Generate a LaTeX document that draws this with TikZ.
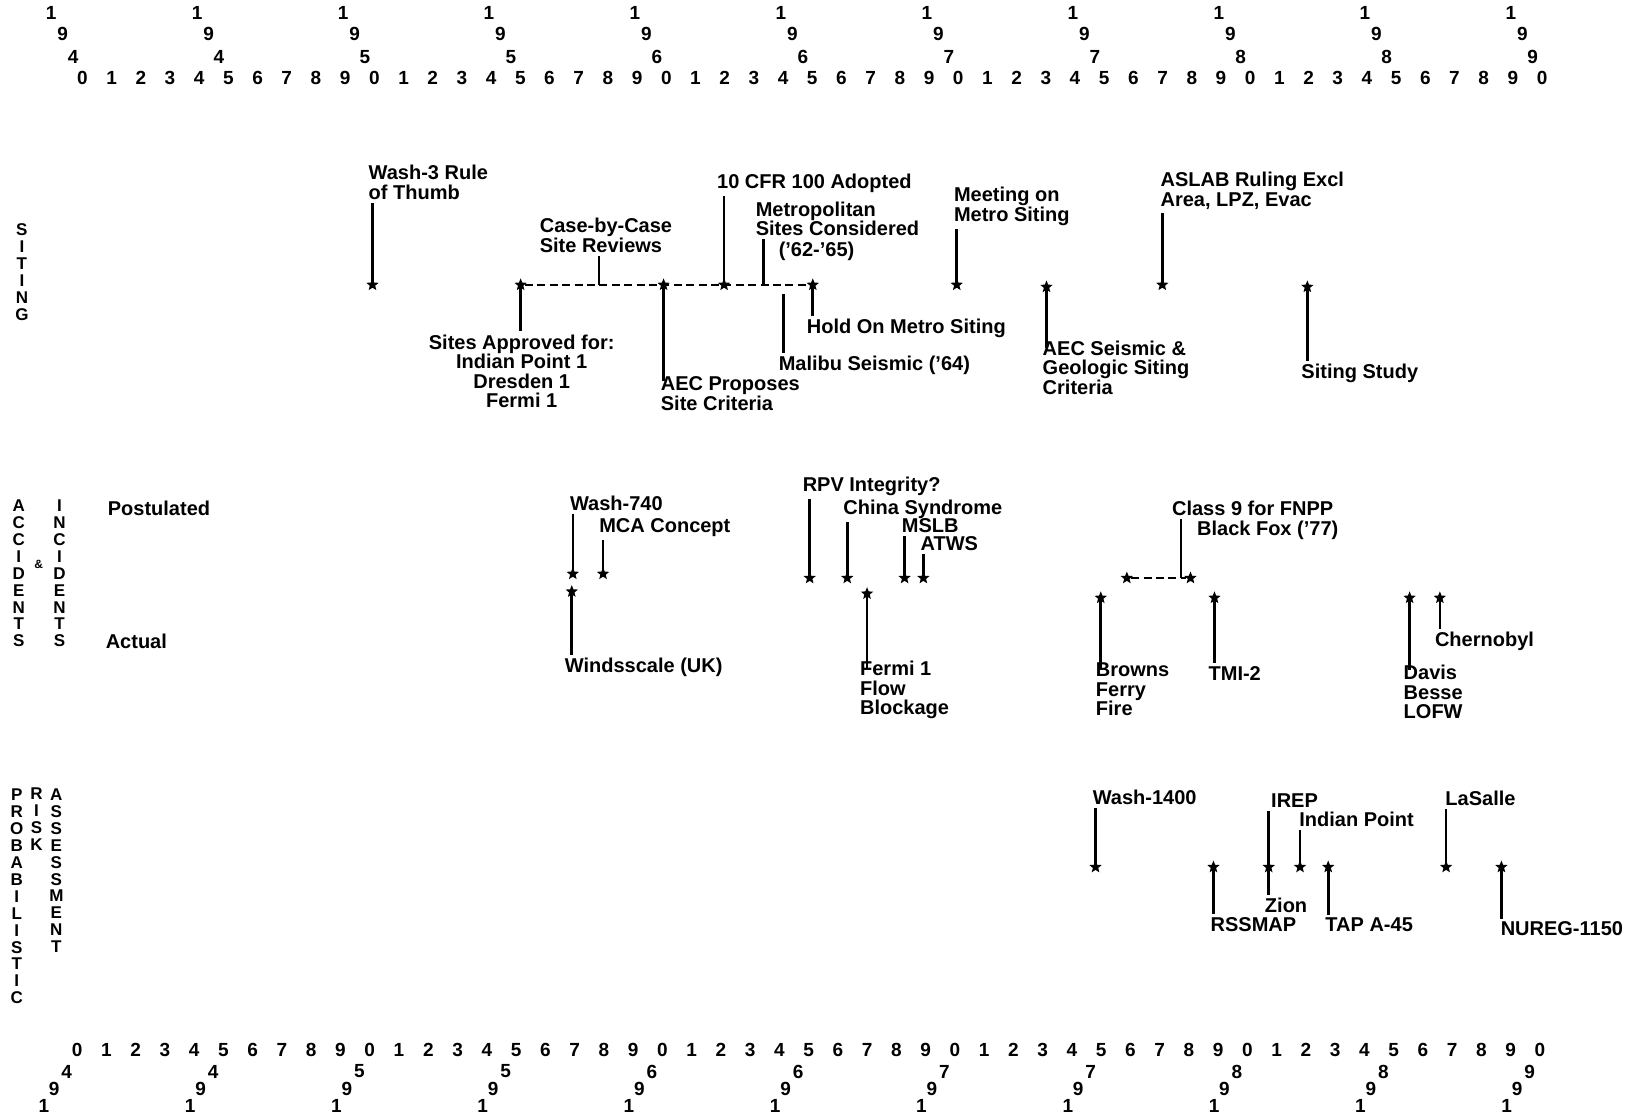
\documentclass[tikz,border=0pt]{standalone}
\usepackage{fontspec}
\setmainfont{Liberation Sans}
\usepackage{tikz}
\usetikzlibrary{shapes.geometric,calc}

\begin{document}
\begin{tikzpicture}[x=0.5217pt, y=-0.5217pt,
    font=\fontsize{10}{9.8}\selectfont\bfseries,
    evt/.style={star, star points=5, star point ratio=2.3, fill=black, draw=none, minimum size=6.5pt, inner sep=0pt},
    lbl/.style={anchor=base west, align=left, inner xsep=0pt, inner ysep=1.5pt},
    clbl/.style={anchor=base, align=center, inner sep=1.5pt},
    stk/.style={anchor=base, align=center, inner sep=0pt, font=\fontsize{8.5}{8.45}\selectfont\bfseries},
    dig/.style={inner sep=0pt, font=\fontsize{9.5}{9.5}\selectfont\bfseries},
    tick/.style={line width=1.3pt},
    span/.style={line width=0.9pt, dash pattern=on 4pt off 2.2pt}]
    \useasboundingbox (0,0) rectangle (1568,1070);

    % year scales, top and bottom
    \foreach \i in {0,...,50} {
        \pgfmathtruncatemacro{\d}{mod(\i,10)}
        \node[dig] (ty\i) at ({79+27.98*\i},75) {\d};
        \node[dig] (by\i) at ({74+28.04*\i},1006) {\d};
    }
    \foreach \k in {0,...,10} {
        \pgfmathtruncatemacro{\dec}{4+int(\k/2)}
        \node[dig] (tc\k) at ({79+139.9*\k-30},12) {1};
        \node[dig] (tn\k) at ({79+139.9*\k-19},33) {9};
        \node[dig] (td\k) at ({79+139.9*\k-9},55) {\dec};
        \node[dig] (bd\k) at ({74+140.2*\k-10},1027) {\dec};
        \node[dig] (bn\k) at ({74+140.2*\k-22},1044) {9};
        \node[dig] (bc\k) at ({74+140.2*\k-32},1060) {1};
    }

    % row titles (base = last letter)
    \node[stk] (siting) at (21,307) {S\\I\\T\\I\\N\\G};
    \node[stk] (accid) at (18,620) {A\\C\\C\\I\\D\\E\\N\\T\\S};
    \node[stk, font=\fontsize{6}{6}\selectfont\bfseries] (amp) at (37,545) {\&};
    \node[stk] (incid) at (57,620) {I\\N\\C\\I\\D\\E\\N\\T\\S};
    \node[stk] (prob) at (16,962) {P\\R\\O\\B\\A\\B\\I\\L\\I\\S\\T\\I\\C};
    \node[stk] (risk) at (35,815) {R\\I\\S\\K};
    \node[stk] (asses) at (54,913) {A\\S\\S\\E\\S\\S\\M\\E\\N\\T};
    \node[lbl] (postul) at (103,494) {Postulated};
    \node[lbl] (actual) at (101,622) {Actual};

    % siting
    \node[evt] (s50) at (357,273) {};
    \node[evt] (s55) at (499,273) {};
    \node[evt] (s60) at (636,273) {};
    \node[evt] (s62) at (694,273) {};
    \node[evt] (s65) at (779,273) {};
    \node[evt] (s70) at (917,273) {};
    \node[evt] (s73) at (1003,275) {};
    \node[evt] (s77) at (1114,273) {};
    \node[evt] (s82) at (1253,275) {};
    \coordinate (cbcpt) at (574,273);
    \coordinate (metpt) at (732,273);
    \coordinate (malpt) at (751,282);

    \node[lbl] (wash3) at (353,191) {Wash-3 Rule\\of Thumb};
    \node[lbl] (cbc) at (517,242) {Case-by-Case\\Site Reviews};
    \node[lbl] (cfr) at (687,181) {10 CFR 100 Adopted};
    \node[lbl] (metro) at (724,226) {Metropolitan\\Sites Considered};
    \node[lbl] (metyr) at (746,246) {('62-'65)};
    \node[clbl] (approved) at (500,391) {Sites Approved for:\\Indian Point 1\\Dresden 1\\Fermi 1};
    \node[lbl] (aecprop) at (633,393) {AEC Proposes\\Site Criteria};
    \node[lbl] (malibu) at (746,355) {Malibu Seismic ('64)};
    \node[lbl] (hold) at (773,320) {Hold On Metro Siting};
    \node[lbl] (meeting) at (914,212) {Meeting on\\Metro Siting};
    \node[lbl] (aecseis) at (999,378) {AEC Seismic \&\\Geologic Siting\\Criteria};
    \node[lbl] (aslab) at (1112,198) {ASLAB Ruling Excl\\Area, LPZ, Evac};
    \node[lbl] (study) at (1247,363) {Siting Study};

    \draw[span] (s55) -- (s65);
    \draw[tick] (s50.center) -- (s50 |- wash3.south);
    \draw[tick] (cbcpt) -- (cbcpt |- cbc.south);
    \draw[tick] (s62.center) -- (s62 |- cfr.south);
    \draw[tick] (metpt) -- (metpt |- metro.south);
    \draw[tick] (s55.center) -- (s55 |- approved.north);
    \draw[tick] (s60.center) -- ($(s60 |- aecprop.north)+(0,8)$);
    \draw[tick] (malpt) -- (malpt |- malibu.north);
    \draw[tick] (s65.center) -- (s65 |- hold.north);
    \draw[tick] (s70.center) -- (s70 |- meeting.south);
    \draw[tick] (s73.center) -- ($(s73 |- aecseis.north)+(0,10)$);
    \draw[tick] (s77.center) -- (s77 |- aslab.south);
    \draw[tick] (s82.center) -- (s82 |- study.north);

    % accidents and incidents
    \node[evt] (a57p) at (549,550) {};
    \node[evt] (a58p) at (578,550) {};
    \node[evt] (a57a) at (548,567) {};
    \node[evt] (a65p) at (776,554) {};
    \node[evt] (a66p) at (812,554) {};
    \node[evt] (a68p) at (867,554) {};
    \node[evt] (a69p) at (885,554) {};
    \node[evt] (a66a) at (831,569) {};
    \node[evt] (a76p) at (1080,554) {};
    \node[evt] (a78p) at (1141,554) {};
    \node[evt] (a75a) at (1055,573) {};
    \node[evt] (a79a) at (1164,573) {};
    \node[evt] (a85a) at (1351,573) {};
    \node[evt] (a86a) at (1380,573) {};
    \coordinate (c9pt) at (1132,554);

    \node[lbl] (w740) at (546,489) {Wash-740};
    \node[lbl] (mca) at (574,510) {MCA Concept};
    \node[lbl] (winds) at (541,645) {Windsscale (UK)};
    \node[lbl] (rpv) at (769,471) {RPV Integrity?};
    \node[lbl] (china) at (808,493) {China Syndrome};
    \node[lbl] (mslb) at (864,510) {MSLB};
    \node[lbl] (atws) at (882,528) {ATWS};
    \node[lbl] (fermi) at (824,685) {Fermi 1\\Flow\\Blockage};
    \node[lbl] (class9) at (1123,494) {Class 9 for FNPP};
    \node[lbl] (bfox) at (1147,513) {Black Fox ('77)};
    \node[lbl] (browns) at (1050,686) {Browns\\Ferry\\Fire};
    \node[lbl] (tmi) at (1158,652) {TMI-2};
    \node[lbl] (davis) at (1345,689) {Davis\\Besse\\LOFW};
    \node[lbl] (chern) at (1375,620) {Chernobyl};

    \draw[span] (a76p) -- (a78p);
    \draw[tick] (a57p.center) -- (a57p |- w740.south);
    \draw[tick] (a58p.center) -- (a58p |- mca.south);
    \draw[tick] (a57a.center) -- (a57a |- winds.north);
    \draw[tick] (a65p.center) -- (a65p |- rpv.south);
    \draw[tick] (a66p.center) -- (a66p |- china.south);
    \draw[tick] (a68p.center) -- (a68p |- mslb.south);
    \draw[tick] (a69p.center) -- (a69p |- atws.south);
    \draw[tick] (a66a.center) -- ($(a66a |- fermi.north)+(0,10)$);
    \draw[tick] (c9pt) -- (c9pt |- class9.south);
    \draw[tick] (a75a.center) -- ($(a75a |- browns.north)+(0,8)$);
    \draw[tick] (a79a.center) -- (a79a |- tmi.north);
    \draw[tick] (a85a.center) -- ($(a85a |- davis.north)+(0,8)$);
    \draw[tick] (a86a.center) -- (a86a |- chern.north);

    % probabilistic risk assessment
    \node[evt] (p75) at (1050,831) {};
    \node[evt] (p79) at (1163,831) {};
    \node[evt] (p81) at (1216,831) {};
    \node[evt] (p82) at (1246,831) {};
    \node[evt] (p83) at (1273,831) {};
    \node[evt] (p87) at (1386,831) {};
    \node[evt] (p89) at (1439,831) {};

    \node[lbl] (w1400) at (1047,771) {Wash-1400};
    \node[lbl] (rssmap) at (1160,893) {RSSMAP};
    \node[lbl] (irep) at (1218,774) {IREP};
    \node[lbl] (zion) at (1212,875) {Zion};
    \node[lbl] (ipoint) at (1245,792) {Indian Point};
    \node[lbl] (tap) at (1270,893) {TAP A-45};
    \node[lbl] (lasalle) at (1385,772) {LaSalle};
    \node[lbl] (nureg) at (1438,897) {NUREG-1150};

    \draw[tick] (p75.center) -- (p75 |- w1400.south);
    \draw[tick] (p79.center) -- (p79 |- rssmap.north);
    \draw[tick] (p81.center) -- (p81 |- irep.south);
    \draw[tick] (p81.center) -- (p81 |- zion.north);
    \draw[tick] (p82.center) -- (p82 |- ipoint.south);
    \draw[tick] (p83.center) -- (p83 |- tap.north);
    \draw[tick] (p87.center) -- (p87 |- lasalle.south);
    \draw[tick] (p89.center) -- (p89 |- nureg.north);
\end{tikzpicture}
\end{document}
